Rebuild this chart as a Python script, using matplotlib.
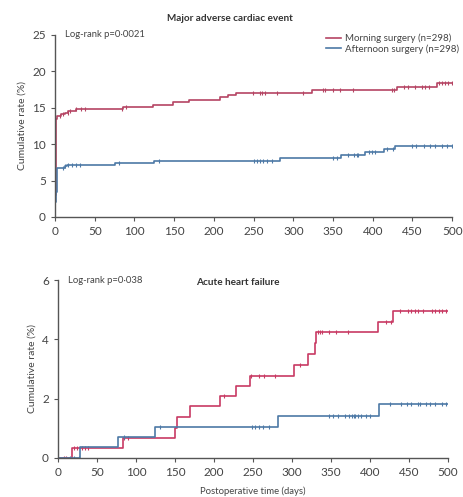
import numpy as np
import matplotlib.pyplot as plt

plt.rcParams['font.family'] = ['Lato', 'DejaVu Sans']

# ---- Major adverse cardiac event (top) ----
mace_am_t = [0, 0.5, 1, 1.5, 3, 8, 12, 17, 26, 85, 124, 149, 169, 208, 218, 228, 323, 431, 481]
mace_am_y = [0, 3, 9, 13.5, 13.9, 14.1, 14.3, 14.5, 14.8, 15.1, 15.4, 15.8, 16.1, 16.5, 16.8, 17.1, 17.5, 17.9, 18.4]
mace_am_cens = [6, 10, 16, 19, 27, 33, 38, 84, 89, 249, 258, 260, 264, 279, 312, 338, 340, 350,
                359, 375, 424, 427, 439, 445, 453, 462, 466, 471, 483, 487, 491, 495, 500]

mace_pm_t = [0, 0.5, 1, 2, 3, 12, 15, 76, 125, 283, 360, 390, 414, 428]
mace_pm_y = [0, 2, 3.5, 5, 6.7, 7.0, 7.2, 7.4, 7.7, 8.1, 8.5, 8.9, 9.3, 9.7]
mace_pm_cens = [10, 13, 17, 21, 26, 31, 81, 131, 251, 254, 258, 262, 267, 273, 350, 355, 369,
                376, 380, 382, 395, 399, 403, 418, 426, 449, 455, 464, 472, 479, 487, 493, 500]

# ---- Acute heart failure (bottom) ----
ahf_am_t = [0, 18, 83, 150, 153, 169, 208, 228, 246, 302, 321, 329, 331, 410, 430]
ahf_am_y = [0, 0.35, 0.67, 1.01, 1.37, 1.74, 2.08, 2.43, 2.77, 3.15, 3.52, 3.88, 4.24, 4.6, 4.97]
ahf_am_cens = [8, 10, 20, 25, 31, 35, 38, 85, 90, 213, 248, 258, 264, 278, 310, 333, 336, 338,
               348, 356, 372, 421, 427, 438, 449, 453, 458, 462, 468, 479, 483, 488, 492, 498]

ahf_pm_t = [0, 28, 77, 125, 282, 412]
ahf_pm_y = [0, 0.36, 0.72, 1.05, 1.41, 1.83]
ahf_pm_cens = [16, 21, 27, 84, 131, 249, 252, 258, 263, 270, 347, 353, 359, 368, 373, 377, 379,
               381, 385, 389, 395, 400, 426, 440, 447, 453, 461, 464, 472, 477, 483, 492, 498]

red = '#b54463'
red2 = '#c83a63'
blue = '#4d79a6'
grey = '#555555'
txt = '#444444'


def step_at(t, ts, ys):
    i = np.searchsorted(ts, t, side='right') - 1
    return np.asarray(ys)[i]


def km(ax, ts, ys, cens, color, label=None):
    ts = list(ts) + [500]
    ys = list(ys) + [ys[-1]]
    ax.step(ts, ys, where='post', color=color, lw=1.2, label=label)
    cy = step_at(np.array(cens), ts, ys)
    ax.plot(cens, cy, ls='none', marker='|', ms=3.5, mew=0.8, color=color)


def style(ax):
    for s in ['top', 'right']:
        ax.spines[s].set_visible(False)
    for s in ['left', 'bottom']:
        ax.spines[s].set_color(grey)
        ax.spines[s].set_linewidth(1.0)
    ax.tick_params(colors=grey, labelsize=8.5, length=3, width=0.8, labelcolor=txt)
    ax.set_xlim(0, 500)
    ax.set_xticks(range(0, 501, 50))
    ax.set_ylabel('Cumulative rate (%)', fontsize=7.5, color=txt)


fig = plt.figure(figsize=(4.64, 4.97), dpi=100)

ax1 = fig.add_axes([0.1185, 0.5634, 0.856, 0.3662])
km(ax1, mace_am_t, mace_am_y, mace_am_cens, red, 'Morning surgery (n=298)')
km(ax1, mace_pm_t, mace_pm_y, mace_pm_cens, blue, 'Afternoon surgery (n=298)')
style(ax1)
ax1.set_ylim(0, 25)
ax1.set_yticks(range(0, 26, 5))
ax1.text(0.025, 1.0, 'Log-rank p=0·0021', transform=ax1.transAxes, fontsize=6.8,
         color=txt, va='center')
ax1.set_title('Major adverse cardiac event', fontsize=7.2, fontweight='bold',
              color='#333333', x=0.44, pad=10)
ax1.legend(loc='upper right', bbox_to_anchor=(1.04, 1.055), frameon=False, fontsize=7,
           handlelength=1.6, handletextpad=0.4, labelspacing=0.1, labelcolor=txt)

ax2 = fig.add_axes([0.125, 0.0785, 0.8405, 0.3581])
km(ax2, ahf_am_t, ahf_am_y, ahf_am_cens, red2)
km(ax2, ahf_pm_t, ahf_pm_y, ahf_pm_cens, blue)
style(ax2)
ax2.set_ylim(0, 6)
ax2.set_yticks([0, 2, 4, 6])
ax2.text(0.025, 1.0, 'Log-rank p=0·038', transform=ax2.transAxes, fontsize=6.8,
         color=txt, va='center')
ax2.text(0.46, 0.985, 'Acute heart failure', transform=ax2.transAxes, fontsize=7.2,
         fontweight='bold', color='#333333', ha='center', va='center')
ax2.set_xlabel('Postoperative time (days)', fontsize=6.8, color=txt, labelpad=6)

fig.savefig('out.png', dpi=100)
